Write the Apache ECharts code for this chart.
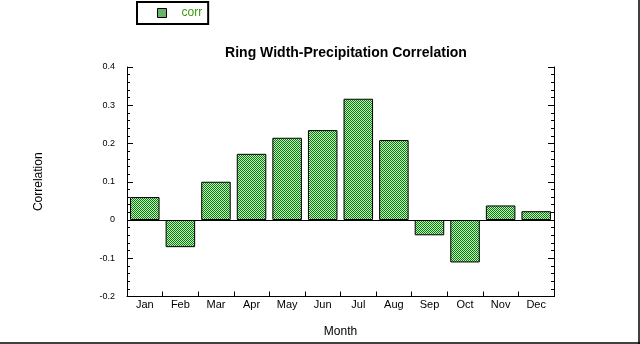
<!DOCTYPE html>
<html>
<head>
<meta charset="utf-8">
<script src="https://cdn.jsdelivr.net/npm/echarts@6/dist/echarts.min.js"></script>
<style>html,body{margin:0;padding:0;background:#fff}#c{width:640px;height:344px}</style>
</head>
<body>
<div id="c"></div>
<script>
const months = ['Jan','Feb','Mar','Apr','May','Jun','Jul','Aug','Sep','Oct','Nov','Dec'];
const corr = [0.060, -0.071, 0.100, 0.173, 0.215, 0.235, 0.317, 0.209, -0.040, -0.111, 0.038, 0.023];
const yTicks = {min: -0.2, max: 0.4, interval: 0.1};

const pc = document.createElement('canvas');
pc.width = 2; pc.height = 2;
const g = pc.getContext('2d');
g.fillStyle = '#c0f0c0'; g.fillRect(0,0,2,2);
g.fillStyle = '#0a7a0a'; g.fillRect(0,0,1,1); g.fillRect(1,1,1,1);
const pattern = {image: pc, repeat: 'repeat'};

const font = 'Liberation Sans, Arial, Helvetica, sans-serif';
const chart = echarts.init(document.getElementById('c'), null, {renderer: 'canvas'});
const yAxisBase = {
  type: 'value', min: yTicks.min, max: yTicks.max, interval: yTicks.interval,
  axisLine: {show: true, lineStyle: {color: '#000', width: 1}},
  axisTick: {show: true, inside: true, length: 6, lineStyle: {color: '#000'}},
  minorTick: {show: true, splitNumber: 5, length: 3, lineStyle: {color: '#000'}},
  splitLine: {show: false}
};
chart.setOption({
  animation: false,
  textStyle: {fontFamily: font},
  title: {
    text: 'Ring Width-Precipitation Correlation',
    left: 341, top: 41, textAlign: 'center',
    textStyle: {fontSize: 14, fontWeight: 'bold', color: '#000', fontFamily: font}
  },
  legend: {
    left: 137, top: 2, orient: 'horizontal',
    borderColor: '#000', borderWidth: 2, borderRadius: 0,
    padding: [5, 6, 5, 20],
    itemWidth: 9, itemHeight: 9, itemGap: 10,
    icon: 'rect',
    itemStyle: {borderColor: '#000', borderWidth: 1},
    textStyle: {color: '#3c9a14', fontSize: 12, fontFamily: font, padding: [0, 0, 0, 10]},
    data: ['corr']
  },
  grid: {left: 127, right: 86, top: 67, bottom: 47.5, containLabel: false},
  xAxis: {
    type: 'category', data: months,
    name: 'Month', nameLocation: 'middle', nameGap: 29,
    nameTextStyle: {fontSize: 12, color: '#000', fontFamily: font},
    axisLine: {onZero: false, lineStyle: {color: '#000', width: 1}},
    axisTick: {show: true, inside: true, length: 5, alignWithLabel: false, lineStyle: {color: '#000'}},
    axisLabel: {fontSize: 11, color: '#000', margin: 3, fontFamily: font},
    splitLine: {show: false}
  },
  yAxis: [
    Object.assign({}, yAxisBase, {
      position: 'left',
      name: 'Correlation', nameLocation: 'middle', nameGap: 82, nameRotate: 90,
      nameTextStyle: {fontSize: 12, color: '#000', fontFamily: font},
      axisLabel: {fontSize: 9, color: '#000', margin: 12, fontFamily: font}
    }),
    Object.assign({}, yAxisBase, {position: 'right', axisLabel: {show: false}})
  ],
  series: [{
    name: 'corr', type: 'bar', data: corr, yAxisIndex: 0,
    barCategoryGap: '17%',
    itemStyle: {color: pattern, borderColor: '#000', borderWidth: 1},
    markLine: {
      silent: true, symbol: 'none', label: {show: false},
      lineStyle: {color: '#000', width: 1, type: 'solid'},
      data: [{yAxis: 0}]
    }
  }],
  graphic: [
    {type: 'line', shape: {x1: 639, y1: 0, x2: 639, y2: 344}, style: {stroke: '#000', lineWidth: 1.5}},
    {type: 'line', shape: {x1: 0, y1: 343, x2: 640, y2: 343}, style: {stroke: '#000', lineWidth: 1.5}}
  ]
});
</script>
</body>
</html>
